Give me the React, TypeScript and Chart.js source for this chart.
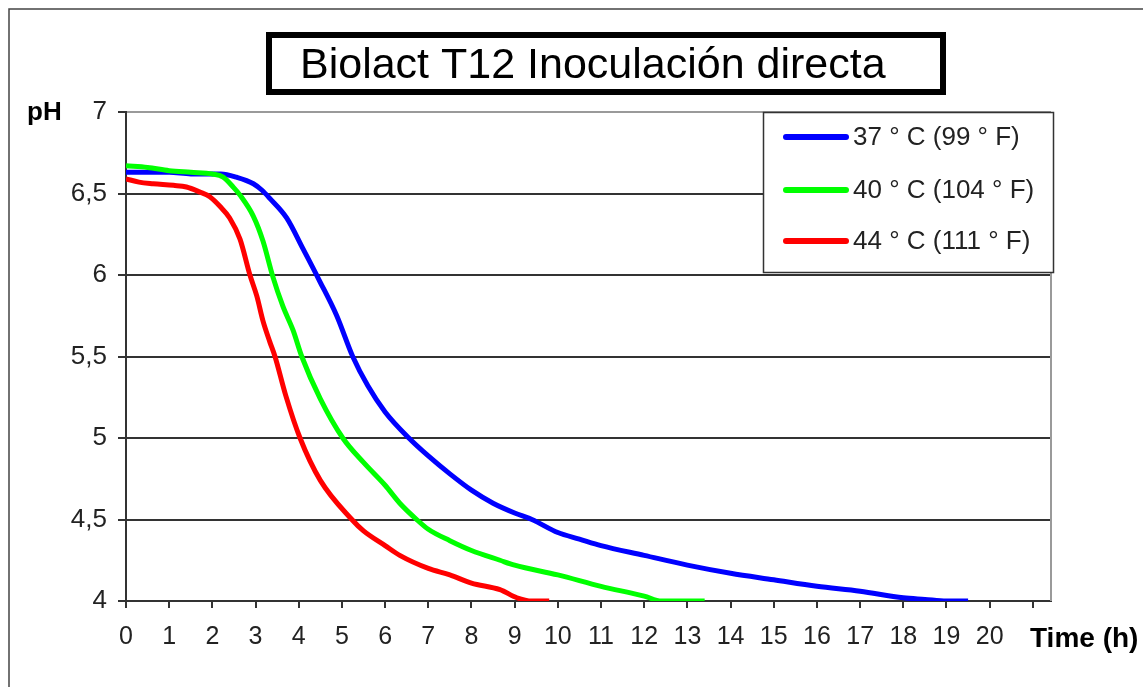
import React, { useEffect, useRef } from 'react';
import { Chart, registerables } from 'chart.js';

Chart.register(...registerables);

const chartTitle = 'Biolact T12 Inoculación directa';
const yAxisTitle = 'pH';
const xAxisTitle = 'Time (h)';
const seriesNames = ['37 ° C (99 ° F)', '40 ° C (104 ° F)', '44 ° C (111 ° F)'];
const seriesColors = ['#0000ff', '#00ff00', '#ff0000'];

const t37 = [0, 0.5, 1, 1.5, 2, 2.2, 2.56, 2.95, 3.15, 3.33, 3.72, 4.1, 4.49, 4.88, 5.25, 5.6, 6, 6.55, 7, 7.5, 8, 8.5, 9, 9.4, 10, 10.5, 11, 12, 13, 14, 15, 16, 17, 18, 18.5, 19, 19.5];
const ph37 = [6.63, 6.63, 6.63, 6.62, 6.62, 6.62, 6.6, 6.56, 6.52, 6.47, 6.35, 6.16, 5.96, 5.75, 5.5, 5.32, 5.16, 5.0, 4.89, 4.78, 4.68, 4.6, 4.54, 4.5, 4.42, 4.38, 4.34, 4.28, 4.22, 4.17, 4.13, 4.09, 4.06, 4.02, 4.01, 4.0, 4.0];

const t40 = [0, 0.5, 1, 1.5, 2, 2.25, 2.48, 2.64, 2.95, 3.17, 3.4, 3.63, 3.87, 4.07, 4.5, 5.02, 5.5, 6, 6.34, 6.73, 7, 7.5, 8, 8.66, 9, 10, 11, 12, 12.4, 13, 13.4];
const ph40 = [6.67, 6.66, 6.64, 6.63, 6.62, 6.6, 6.54, 6.49, 6.36, 6.21, 5.99, 5.81, 5.66, 5.5, 5.24, 5.0, 4.85, 4.71, 4.6, 4.5, 4.44, 4.37, 4.31, 4.25, 4.22, 4.16, 4.09, 4.03, 4.0, 4.0, 4.0];

const t44 = [0, 0.3, 0.63, 1.1, 1.4, 1.7, 1.94, 2.18, 2.4, 2.64, 2.87, 3.03, 3.17, 3.33, 3.45, 3.7, 4.03, 4.5, 5.23, 5.5, 6, 6.34, 7, 7.5, 8, 8.66, 9.05, 9.4, 9.8];
const ph44 = [6.59, 6.57, 6.56, 6.55, 6.54, 6.51, 6.48, 6.42, 6.35, 6.22, 6.0, 5.87, 5.72, 5.59, 5.5, 5.26, 5.0, 4.74, 4.5, 4.43, 4.34, 4.28, 4.2, 4.16, 4.11, 4.07, 4.02, 4.0, 4.0];

const xTickValues = [0, 1, 2, 3, 4, 5, 6, 7, 8, 9, 10, 11, 12, 13, 14, 15, 16, 17, 18, 19, 20, 21];
const xTickLabels = ['0', '1', '2', '3', '4', '5', '6', '7', '8', '9', '10', '11', '12', '13', '14', '15', '16', '17', '18', '19', '20', ''];
const yTickValues = [4, 4.5, 5, 5.5, 6, 6.5, 7];
const yTickLabels = ['4', '4,5', '5', '5,5', '6', '6,5', '7'];

const FONT = '"Liberation Sans", Arial, sans-serif';

const decorPlugin = {
  id: 'decor',
  afterDraw(chart: any) {
    const ctx = chart.ctx as CanvasRenderingContext2D;
    const ca = chart.chartArea;
    ctx.save();
    // outer frame
    ctx.strokeStyle = '#444';
    ctx.lineWidth = 1.5;
    ctx.beginPath();
    ctx.moveTo(9, 700);
    ctx.lineTo(9, 9);
    ctx.lineTo(1200, 9);
    ctx.stroke();
    // right border of plot area
    ctx.strokeStyle = '#9a9a9a';
    ctx.lineWidth = 2;
    ctx.beginPath();
    ctx.moveTo(ca.right, ca.top);
    ctx.lineTo(ca.right, ca.bottom);
    ctx.stroke();
    // title box
    ctx.lineWidth = 6;
    ctx.strokeStyle = '#000';
    ctx.strokeRect(269, 35, 674, 57);
    ctx.fillStyle = '#000';
    ctx.font = `43px ${FONT}`;
    ctx.textAlign = 'left';
    ctx.textBaseline = 'alphabetic';
    ctx.fillText(chartTitle, 300, 78);
    // axis titles
    ctx.font = `bold 26px ${FONT}`;
    ctx.fillText(yAxisTitle, 27, 120);
    ctx.font = `bold 28px ${FONT}`;
    ctx.fillText(xAxisTitle, 1030, 647);
    // legend
    ctx.fillStyle = '#fff';
    ctx.fillRect(763, 112, 291, 161);
    ctx.strokeStyle = '#333';
    ctx.lineWidth = 1.5;
    ctx.strokeRect(763.5, 112.5, 290, 160);
    const rowsY = [137, 190, 241];
    ctx.font = `26px ${FONT}`;
    ctx.textBaseline = 'middle';
    seriesNames.forEach((name, i) => {
      ctx.strokeStyle = seriesColors[i];
      ctx.lineWidth = 6;
      ctx.lineCap = 'round';
      ctx.beginPath();
      ctx.moveTo(786, rowsY[i]);
      ctx.lineTo(846, rowsY[i]);
      ctx.stroke();
      ctx.fillStyle = '#222';
      ctx.fillText(name, 853, rowsY[i] + 1);
    });
    ctx.restore();
  },
};

export default function App() {
  const canvasRef = useRef<HTMLCanvasElement | null>(null);

  useEffect(() => {
    const canvas = canvasRef.current;
    if (!canvas) return;
    const mk = (t: number[], p: number[]) => t.map((x, i) => ({ x, y: p[i] }));
    const common = { borderWidth: 5, pointRadius: 0, cubicInterpolationMode: 'monotone' as const, fill: false };
    const chart = new Chart(canvas, {
      type: 'line',
      data: {
        datasets: [
          { label: seriesNames[0], data: mk(t37, ph37), borderColor: seriesColors[0], order: 3, ...common },
          { label: seriesNames[1], data: mk(t40, ph40), borderColor: seriesColors[1], order: 2, ...common },
          { label: seriesNames[2], data: mk(t44, ph44), borderColor: seriesColors[2], order: 1, ...common },
        ],
      },
      options: {
        responsive: false,
        animation: false,
        devicePixelRatio: 1,
        layout: { padding: { left: 0, top: 112, right: 92, bottom: 0 } },
        plugins: { legend: { display: false }, title: { display: false }, tooltip: { enabled: false } },
        scales: {
          x: {
            type: 'linear',
            min: 0,
            max: 21.42,
            afterFit: (s: any) => { s.height = 86; },
            afterBuildTicks: (s: any) => { s.ticks = xTickValues.map((v) => ({ value: v })); },
            ticks: {
              autoSkip: false,
              maxRotation: 0,
              padding: 14,
              color: '#222',
              font: { family: FONT, size: 25 },
              callback: (v: any) => xTickLabels[xTickValues.indexOf(Number(v))] ?? '',
            },
            grid: { drawOnChartArea: false, tickLength: 7, color: '#333', lineWidth: 2 },
            border: { color: '#333', width: 2 },
          },
          y: {
            type: 'linear',
            min: 4,
            max: 7,
            afterFit: (s: any) => { s.width = 126; },
            afterBuildTicks: (s: any) => { s.ticks = yTickValues.map((v) => ({ value: v })); },
            ticks: {
              padding: 11,
              color: '#222',
              font: { family: FONT, size: 26 },
              callback: (v: any) => yTickLabels[yTickValues.indexOf(Number(v))] ?? '',
            },
            grid: {
              tickLength: 8,
              color: (c: any) => (c.tick && c.tick.value === 7 ? '#9a9a9a' : '#333'),
              tickColor: '#333',
              lineWidth: 2,
            },
            border: { color: '#333', width: 2 },
          },
        },
      },
      plugins: [decorPlugin],
    });
    return () => chart.destroy();
  }, []);

  return (
    <div style={{ position: 'fixed', left: 0, top: 0, width: 1143, height: 687, background: '#fff' }}>
      <canvas ref={canvasRef} width={1143} height={687} style={{ width: 1143, height: 687, display: 'block' }} />
    </div>
  );
}
